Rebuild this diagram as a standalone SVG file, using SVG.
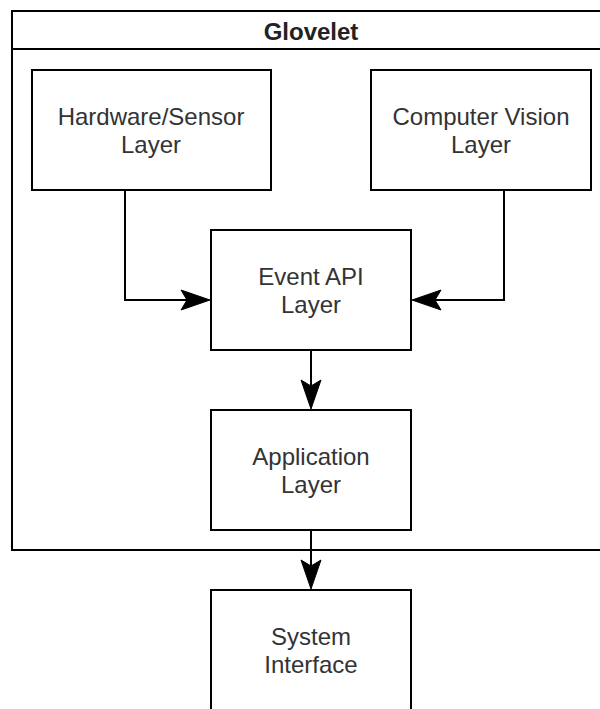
<svg xmlns="http://www.w3.org/2000/svg" width="600" height="709" viewBox="0 0 600 709">
  <style>
    .box { fill: #ffffff; stroke: #000000; stroke-width: 2; }
    .lbl { font-family: "Liberation Sans", Arial, Helvetica, sans-serif; font-size: 24px; fill: #333333; text-anchor: middle; }
    .title { font-weight: bold; fill: #222222; }
    .edge { fill: none; stroke: #000000; stroke-width: 2; }
    .head { fill: #000000; stroke: #000000; stroke-width: 1; stroke-linejoin: miter; }
  </style>
  <defs>
    <!-- classic arrowhead pointing right, tip at origin -->
    <path id="arrowR" d="M0,0 L-29,-10 L-23,0 L-29,10 Z"/>
  </defs>
  <rect width="600" height="709" fill="#ffffff"/>

  <!-- container -->
  <g id="glovelet">
    <rect class="box" x="12" y="11" width="600" height="539"/>
    <line x1="12" y1="49" x2="612" y2="49" stroke="#000000" stroke-width="2"/>
    <text class="lbl title" x="311" y="40">Glovelet</text>
  </g>

  <g id="hardware">
    <rect class="box" x="32" y="70" width="239" height="120"/>
    <text class="lbl" x="151" y="125">Hardware/Sensor</text>
    <text class="lbl" x="151" y="153">Layer</text>
  </g>

  <g id="vision">
    <rect class="box" x="371" y="70" width="220" height="120"/>
    <text class="lbl" x="481" y="125">Computer Vision</text>
    <text class="lbl" x="481" y="153">Layer</text>
  </g>

  <g id="event-api">
    <rect class="box" x="211" y="230" width="200" height="120"/>
    <text class="lbl" x="311" y="285">Event API</text>
    <text class="lbl" x="311" y="313">Layer</text>
  </g>

  <g id="application">
    <rect class="box" x="211" y="410" width="200" height="120"/>
    <text class="lbl" x="311" y="465">Application</text>
    <text class="lbl" x="311" y="493">Layer</text>
  </g>

  <g id="system-interface">
    <rect class="box" x="211" y="590" width="200" height="120"/>
    <text class="lbl" x="311" y="645">System</text>
    <text class="lbl" x="311" y="673">Interface</text>
  </g>

  <g id="connectors">
    <polyline class="edge" points="125,190 125,300 189,300"/>
    <use href="#arrowR" class="head" transform="translate(210,300)"/>

    <polyline class="edge" points="504,190 504,300 433,300"/>
    <use href="#arrowR" class="head" transform="translate(412,300) rotate(180)"/>

    <line class="edge" x1="311" y1="350" x2="311" y2="388"/>
    <use href="#arrowR" class="head" transform="translate(311,409) rotate(90)"/>

    <line class="edge" x1="311" y1="530" x2="311" y2="568"/>
    <use href="#arrowR" class="head" transform="translate(311,589) rotate(90)"/>
  </g>
</svg>
